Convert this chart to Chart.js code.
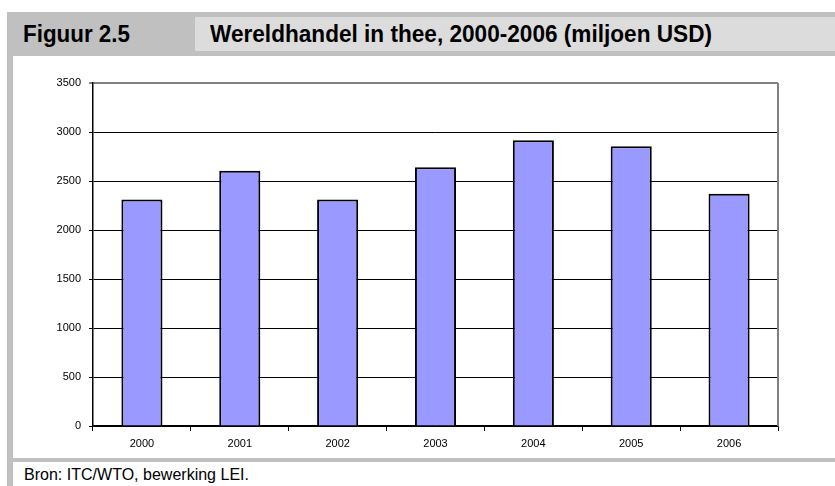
<!DOCTYPE html>
<html>
<head>
<meta charset="utf-8">
<script src="https://cdn.jsdelivr.net/npm/chart.js@4/dist/chart.umd.min.js"></script>
<style>
    body { margin: 0; background: #ffffff; width: 835px; height: 486px; position: relative; overflow: hidden; }
    .band { position: absolute; left: 7px; top: 12px; width: 828px; height: 44px; background: #c0c0c0; }
    .titlebox { position: absolute; left: 195px; top: 17px; width: 640px; height: 34px; background: #dcdcdc; }
    .txt { position: absolute; white-space: nowrap; transform-origin: 0 50%; color: #000; font-family: "Liberation Sans", Arial, sans-serif; }
    .fig { left: 23px; top: 12px; height: 44px; line-height: 44px; font-size: 24px; font-weight: bold; }
    .title { left: 210px; top: 17px; height: 34px; line-height: 34px; font-size: 24px; font-weight: bold; }
    .strip { position: absolute; left: 7px; top: 56px; width: 6px; height: 430px; background: #c0c0c0; }
    .foot { position: absolute; left: 7px; top: 458px; width: 828px; height: 4px; background: #c0c0c0; }
    .source { left: 24px; top: 464px; height: 22px; line-height: 22px; font-size: 17px; }
    #wrap { position: absolute; left: 13px; top: 56px; width: 822px; height: 402px; }
</style>
</head>
<body>
<div class="band"></div>
<div class="txt fig" data-w="107">Figuur 2.5</div>
<div class="titlebox"></div>
<div class="txt title" data-w="502">Wereldhandel in thee, 2000-2006 (miljoen USD)</div>
<div class="strip"></div>
<div class="foot"></div>
<div class="txt source" data-w="225">Bron: ITC/WTO, bewerking LEI.</div>
<div id="wrap"><canvas id="chart"></canvas></div>
<script>
// Data
const years = ['2000', '2001', '2002', '2003', '2004', '2005', '2006'];
const tradeValues = [2310, 2605, 2310, 2640, 2915, 2855, 2370];
const yTicks = [0, 500, 1000, 1500, 2000, 2500, 3000, 3500];

const colors = {
    bar: '#9999ff',
    edge: '#000000',
    frame: '#808080'
};

// squeeze the header / source text to the narrow look of the original
document.querySelectorAll('.txt').forEach(el => {
    const w = el.getBoundingClientRect().width;
    el.style.transform = 'scaleX(' + (Number(el.dataset.w) / w) + ')';
});

// right border of the plot area in grey
const frameRight = {
    id: 'frameRight',
    afterDraw(chart) {
        const a = chart.chartArea;
        const ctx = chart.ctx;
        ctx.save();
        ctx.strokeStyle = colors.frame;
        ctx.lineWidth = 2;
        ctx.beginPath();
        ctx.moveTo(a.right, a.top);
        ctx.lineTo(a.right, a.bottom);
        ctx.stroke();
        ctx.restore();
    }
};

new Chart(document.getElementById('chart'), {
    type: 'bar',
    data: {
        labels: years,
        datasets: [{
            data: tradeValues,
            backgroundColor: colors.bar,
            borderColor: colors.edge,
            borderWidth: 2,
            barPercentage: 0.42,
            categoryPercentage: 1
        }]
    },
    options: {
        responsive: true,
        maintainAspectRatio: false,
        animation: false,
        layout: { padding: { top: 27, right: 57, left: 0, bottom: 0 } },
        plugins: {
            legend: { display: false },
            tooltip: { enabled: false }
        },
        scales: {
            x: {
                offset: true,
                grid: {
                    offset: true,
                    drawOnChartArea: false,
                    color: '#000000',
                    tickLength: 5
                },
                border: { color: '#000000', width: 1.5 },
                ticks: {
                    color: '#000000',
                    font: { family: 'Liberation Sans, Arial, sans-serif', size: 11 },
                    padding: 6
                },
                afterFit: s => { s.height = 32; }
            },
            y: {
                min: 0,
                max: 3500,
                afterBuildTicks: s => { s.ticks = yTicks.map(v => ({ value: v })); },
                grid: {
                    color: c => c.tick && c.tick.value === 3500 ? colors.frame : '#000000',
                    lineWidth: c => c.tick && c.tick.value === 3500 ? 2 : 1,
                    tickLength: 4
                },
                border: { color: '#000000', width: 1.5 },
                ticks: {
                    color: '#000000',
                    font: { family: 'Liberation Sans, Arial, sans-serif', size: 11 },
                    padding: 8,
                    callback: v => String(v)
                },
                afterFit: s => { s.width = 80; }
            }
        }
    },
    plugins: [frameRight]
});
</script>
</body>
</html>
